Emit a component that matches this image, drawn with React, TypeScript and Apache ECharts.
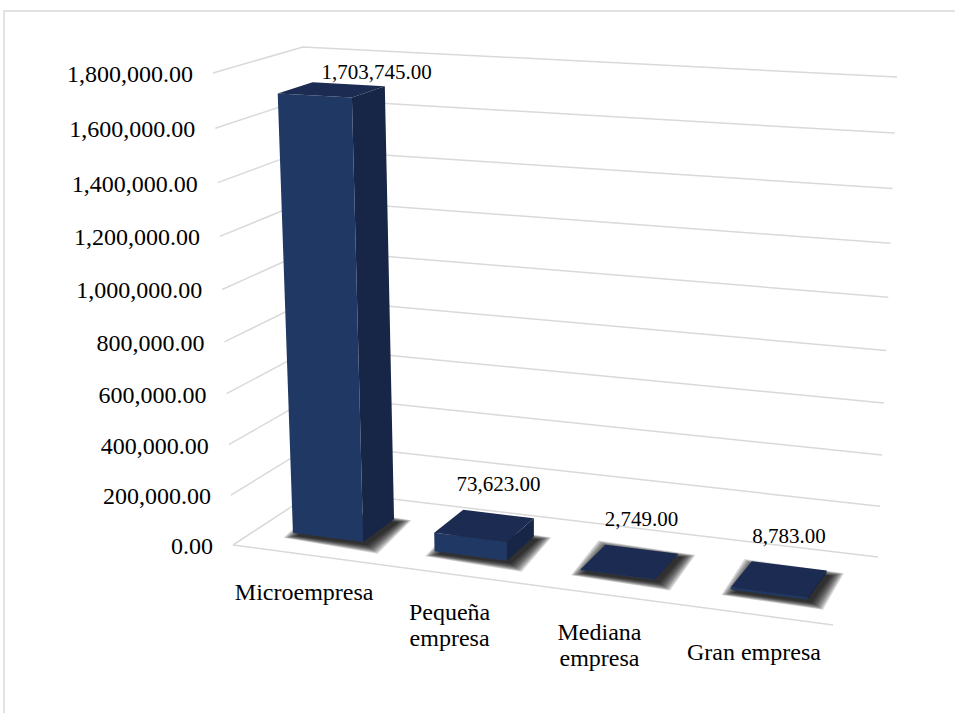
import React, { useEffect, useRef } from 'react';
import * as echarts from 'echarts';

// ---- data ----
const categories: string[] = ['Microempresa', 'Pequeña\nempresa', 'Mediana\nempresa', 'Gran empresa'];
const values: number[] = [1703745, 73623, 2749, 8783];
const valueTicks: number[] = [0, 200000, 400000, 600000, 800000, 1000000, 1200000, 1400000, 1600000, 1800000];
const AXIS_MIN = 0;
const AXIS_MAX = 1800000;
const AXIS_INTERVAL = 200000;

// ---- 3D box layout (screen corners of the plot box) ----
type Pt = [number, number];
const FL0: Pt = [233, 545];
const FR0: Pt = [833, 625];
const BL0: Pt = [317, 490];
const BR0: Pt = [878, 557];
const FL1: Pt = [213, 73];
const FR1: Pt = [848.6, 106.6];
const BL1: Pt = [303, 47];
const BR1: Pt = [897, 77];
const PERSP_U = 1.062;
const PERSP_H = 1.059;
const BAR_W0 = 0.3;
const BAR_W1 = 0.7;
const BAR_FRACTION = 0.5;

const FONT = 'Liberation Serif';
const GRID_COLOR = '#d9d9d9';

function warp(t: number, c: number) {
  if (t <= 0) return 0;
  if (t >= 1) return 1;
  return t / (t + c * (1 - t));
}
function lerp(a: Pt, b: Pt, t: number): Pt {
  return [a[0] + (b[0] - a[0]) * t, a[1] + (b[1] - a[1]) * t];
}
function project(u: number, w: number, h: number): Pt {
  const tu = warp(u, PERSP_U);
  const th = warp(h, PERSP_H);
  const bottom = lerp(lerp(FL0, FR0, tu), lerp(BL0, BR0, tu), w);
  const top = lerp(lerp(FL1, FR1, tu), lerp(BL1, BR1, tu), w);
  return lerp(bottom, top, th);
}
function fmt(v: number) {
  return v.toLocaleString('en-US', { minimumFractionDigits: 2, maximumFractionDigits: 2 });
}
function grow(points: Pt[], px: number, dx: number, dy: number): Pt[] {
  const cx = points.reduce((s, p) => s + p[0], 0) / points.length;
  const cy = points.reduce((s, p) => s + p[1], 0) / points.length;
  return points.map((p) => {
    const vx = p[0] - cx;
    const vy = p[1] - cy;
    const len = Math.hypot(vx, vy) || 1;
    return [p[0] + (vx / len) * px + dx, p[1] + (vy / len) * px + dy] as Pt;
  });
}

export default function App() {
  const ref = useRef<HTMLDivElement>(null);
  useEffect(() => {
    if (!ref.current) return;
    const chart = echarts.init(ref.current, null, { renderer: 'svg' });

    const frameItem = (params: any, api: any) => {
      const cs = params.coordSys;
      const v = api.value(1);
      const py = api.coord([0, v])[1];
      const h = (cs.y + cs.height - py) / cs.height;
      const a = project(0, 0, h);
      const b = project(0, 1, h);
      const c = project(1, 1, h);
      const children: any[] = [
        {
          type: 'polyline',
          shape: { points: [a, b, c] },
          style: { stroke: GRID_COLOR, lineWidth: 1.5, fill: 'none' },
        },
        {
          type: 'text',
          x: a[0] - 20,
          y: a[1] + 1,
          style: {
            text: fmt(v),
            align: 'right',
            verticalAlign: 'middle',
            fontFamily: FONT,
            fontSize: 24,
            fill: '#000',
          },
        },
      ];
      if (v === AXIS_MIN) {
        const e = project(1, 0, 0);
        children.push({
          type: 'line',
          shape: { x1: a[0], y1: a[1], x2: e[0], y2: e[1] },
          style: { stroke: GRID_COLOR, lineWidth: 1.5 },
        });
      }
      return { type: 'group', children };
    };

    const barItem = (params: any, api: any) => {
      const cs = params.coordSys;
      const idx = api.value(0);
      const v = api.value(1);
      const p = api.coord([idx, v]);
      const band = api.size([1, 0])[0];
      const uc = (p[0] - cs.x) / cs.width;
      const half = ((band / cs.width) * BAR_FRACTION) / 2;
      const h = (cs.y + cs.height - p[1]) / cs.height;
      const u0 = uc - half;
      const u1 = uc + half;
      const w0 = BAR_W0;
      const w1 = BAR_W1;
      const P = project;
      const bottom = [P(u0, w0, 0), P(u1, w0, 0), P(u1, w1, 0), P(u0, w1, 0)];
      const right = [P(u1, w0, 0), P(u1, w1, 0), P(u1, w1, h), P(u1, w0, h)];
      const front = [P(u0, w0, 0), P(u1, w0, 0), P(u1, w0, h), P(u0, w0, h)];
      const top = [P(u0, w0, h), P(u1, w0, h), P(u1, w1, h), P(u0, w1, h)];

      const anchor = P(uc, w1, h);
      let lx = anchor[0];
      let ly = anchor[1] - 30;
      const minY = P(0, 0, 1)[1] - 1;
      if (ly < minY) {
        ly = minY;
        lx += 28;
      }
      const cat = P(uc, 0, 0);

      const shadows: any[] = [];
      const steps = 9;
      for (let k = steps; k >= 0; k--) {
        shadows.push({
          type: 'polygon',
          shape: { points: grow(bottom, k * 1.5, 4, 3) },
          style: { fill: 'rgba(0,0,0,0.15)' },
        });
      }

      return {
        type: 'group',
        children: [
          ...shadows,
          { type: 'polygon', shape: { points: right }, style: { fill: '#172646' } },
          { type: 'polygon', shape: { points: front }, style: { fill: '#203864' } },
          { type: 'polygon', shape: { points: top }, style: { fill: '#1b2b51' } },
          {
            type: 'text',
            x: lx,
            y: ly,
            style: {
              text: fmt(v),
              align: 'center',
              verticalAlign: 'middle',
              fontFamily: FONT,
              fontSize: 21,
              fill: '#000',
            },
          },
          {
            type: 'text',
            x: cat[0],
            y: cat[1] + 25,
            style: {
              text: categories[idx],
              align: 'center',
              verticalAlign: 'top',
              fontFamily: FONT,
              fontSize: 24,
              lineHeight: 26,
              fill: '#000',
            },
          },
        ],
      };
    };

    chart.setOption({
      animation: false,
      backgroundColor: '#ffffff',
      textStyle: { fontFamily: FONT },
      grid: { left: 0, top: 0, width: 400, height: 400, show: false },
      xAxis: { type: 'category', data: categories, show: false },
      yAxis: {
        type: 'value',
        min: AXIS_MIN,
        max: AXIS_MAX,
        interval: AXIS_INTERVAL,
        show: false,
      },
      graphic: [
        {
          type: 'rect',
          shape: { x: 4, y: 11, width: 1000, height: 800 },
          style: { fill: 'none', stroke: '#d9d9d9', lineWidth: 1.5 },
          silent: true,
        },
      ],
      series: [
        {
          type: 'custom',
          name: 'frame',
          coordinateSystem: 'cartesian2d',
          clip: false,
          silent: true,
          z: 1,
          data: valueTicks.map((t) => [0, t]),
          renderItem: frameItem,
        },
        {
          type: 'custom',
          name: 'bars',
          coordinateSystem: 'cartesian2d',
          clip: false,
          silent: true,
          z: 2,
          data: values.map((v, i) => [i, v]),
          renderItem: barItem,
        },
      ],
    });
    return () => chart.dispose();
  }, []);
  return (
    <div
      ref={ref}
      style={{ position: 'fixed', left: 0, top: 0, width: 955, height: 713 }}
    />
  );
}
